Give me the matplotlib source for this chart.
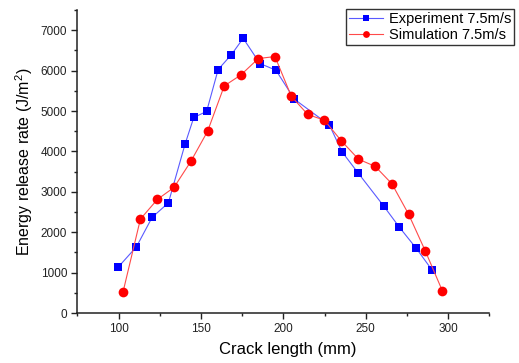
import matplotlib
matplotlib.use("Agg")
import matplotlib.pyplot as plt
from matplotlib.ticker import MultipleLocator

# Experiment 7.5 m/s
exp_x = [99.6, 110.8, 120.3, 130.2, 140.3, 145.6, 153.4, 160.4, 168.5, 175.6,
         185.8, 195.5, 206.7, 228.0, 235.6, 245.6, 260.8, 270.5, 280.7, 290.4]
exp_y = [1130, 1640, 2367, 2728, 4180, 4840, 4990, 6027, 6398, 6800,
         6175, 6010, 5292, 4650, 3990, 3455, 2654, 2120, 1600, 1056]

# Simulation 7.5 m/s
sim_x = [102.6, 113.2, 123.5, 133.6, 143.8, 154.0, 164.1, 174.2, 184.8, 194.9,
         204.8, 214.8, 224.9, 235.2, 245.6, 255.8, 265.9, 276.0, 286.2, 296.5]
sim_y = [512, 2325, 2812, 3109, 3752, 4500, 5621, 5893, 6299, 6348,
         5366, 4914, 4773, 4261, 3808, 3628, 3198, 2448, 1533, 551]

plt.rcParams['font.family'] = ['Liberation Sans', 'DejaVu Sans']

fig = plt.figure(figsize=(5.19, 3.63), dpi=100)
ax = fig.add_axes([0.1493, 0.1377, 0.7934, 0.8347])

ax.plot(exp_x, exp_y, color='#5a5aff', marker='s', markersize=6, linewidth=0.8,
        markeredgewidth=0, markerfacecolor='#0000ff', label='Experiment 7.5m/s')
ax.plot(sim_x, sim_y, color='#ff4a4a', marker='o', markersize=7, linewidth=0.8,
        markeredgewidth=0, markerfacecolor='#ff0000', label='Simulation 7.5m/s')

ax.set_xlim(75, 325)
ax.set_ylim(0, 7500)
ax.xaxis.set_major_locator(MultipleLocator(50))
ax.xaxis.set_minor_locator(MultipleLocator(25))
ax.yaxis.set_major_locator(MultipleLocator(1000))
ax.yaxis.set_minor_locator(MultipleLocator(500))

for s in ['top', 'right']:
    ax.spines[s].set_visible(False)
for s in ['left', 'bottom']:
    ax.spines[s].set_linewidth(1.1)
    ax.spines[s].set_color('#222222')

ax.tick_params(which='major', direction='out', length=4, width=1, labelsize=8.5,
               colors='#222222')
ax.tick_params(which='minor', direction='out', length=2.5, width=1, colors='#222222')

ax.set_xlabel('Crack length (mm)', fontsize=12)
ax.xaxis.set_label_coords((288 - 77.5) / 411.8, -0.097)
ax.set_ylabel(r'Energy release rate (J/m$^\mathregular{2}$)', fontsize=11.5)
ax.yaxis.set_label_coords(-0.103, 0.5)

leg = fig.legend(loc='upper right', bbox_to_anchor=(514 / 519, 1 - 9 / 363),
                 fontsize=10.5, frameon=True, fancybox=False, framealpha=1,
                 edgecolor='#333333', borderpad=0.2, labelspacing=0.15,
                 handlelength=2.3, handletextpad=0.4, borderaxespad=0,
                 markerscale=0.7)
leg.get_frame().set_linewidth(1.0)

fig.savefig('out.png', dpi=100)
